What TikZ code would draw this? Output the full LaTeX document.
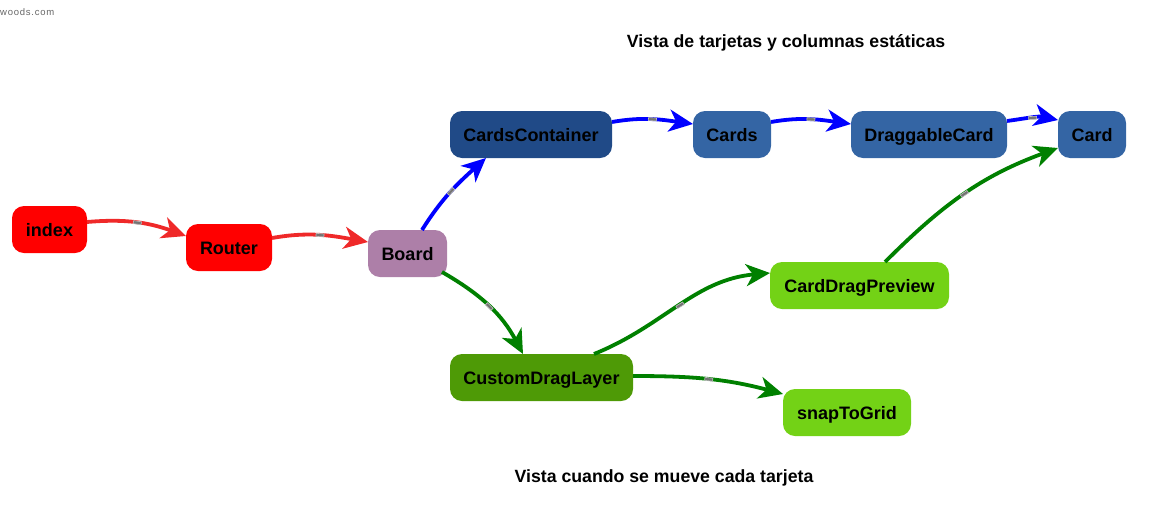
\documentclass[tikz,border=0pt]{standalone}
\usepackage{fontspec}
\setmainfont{Liberation Sans}
\usetikzlibrary{arrows.meta,calc}
\definecolor{nred}{HTML}{FF0000}
\definecolor{nmauve}{HTML}{AD7FA8}
\definecolor{ndblue}{HTML}{204A87}
\definecolor{nblue}{HTML}{3465A4}
\definecolor{ndgreen}{HTML}{4E9A06}
\definecolor{nlgreen}{HTML}{73D216}
\definecolor{ered}{HTML}{EF2929}
\definecolor{eblue}{HTML}{0000FF}
\definecolor{egreen}{HTML}{008000}
\tikzset{
  box/.style={rounded corners=12pt, inner sep=0pt, minimum height=47pt,
    text height=15pt, text depth=2pt,
    font=\fontsize{18}{21}\selectfont\bfseries, text=black},
  edge/.style={line width=3.8pt, -{Stealth[length=24pt,width=22pt,inset=7pt]}},
  midlbl/.style={fill=black!55, draw=black!25, line width=0.6pt, inner sep=0pt, minimum width=8pt, minimum height=3pt, sloped},
  title/.style={font=\fontsize{17.7}{20}\selectfont\bfseries, text=black},
}
\begin{document}
\begin{tikzpicture}[x=1pt,y=1pt]
\useasboundingbox (0,0) rectangle (1154,-520);
\node[anchor=west, inner sep=0pt, text=black!60, font=\fontsize{9.5}{11}\selectfont\addfontfeature{LetterSpace=8}] (wm) at (0,-12) {woods.com};
\node[title] (t1) at (786,-43) {Vista de tarjetas y columnas estáticas};
\node[title] (t2) at (664,-478) {Vista cuando se mueve cada tarjeta};

\node[box, fill=nred, minimum width=75pt] (index) at (49.5,-229.5) {index};
\node[box, fill=nred, minimum width=86pt] (Router) at (229,-247.5) {Router};
\node[box, fill=nmauve, minimum width=79pt] (Board) at (407.5,-253.5) {Board};
\node[box, fill=ndblue, minimum width=162pt] (CC) at (531,-134.5) {CardsContainer};
\node[box, fill=nblue, minimum width=78pt] (Cards) at (732,-134.5) {Cards};
\node[box, fill=nblue, minimum width=156pt] (DC) at (929,-134.5) {DraggableCard};
\node[box, fill=nblue, minimum width=68pt] (Card) at (1092,-134.5) {Card};
\node[box, fill=nlgreen, minimum width=179pt] (CDP) at (859.5,-285.5) {CardDragPreview};
\node[box, fill=ndgreen, minimum width=183pt] (CDL) at (541.5,-377.5) {CustomDragLayer};
\node[box, fill=nlgreen, minimum width=128pt] (snap) at (847,-412.5) {snapToGrid};

\draw[edge, ered] ($(index.center)+(37.5,7.5)$) to[out=5,in=160] node[midlbl]{} ($(Router.center)+(-43,11.5)$);
\draw[edge, ered] ($(Router.center)+(43,9.5)$) to[out=10,in=170] node[midlbl]{} ($(Board.center)+(-39.5,11.5)$);
\draw[edge, eblue] ($(Board.center)+(14.5,23.5)$) to[out=58,in=222] node[midlbl]{} ($(CC.center)+(-45,-23.5)$);
\draw[edge, eblue] ($(CC.center)+(81,12.5)$) to[out=10,in=172] node[midlbl]{} ($(Cards.center)+(-39,10.5)$);
\draw[edge, eblue] ($(Cards.center)+(39,12.5)$) to[out=10,in=172] node[midlbl]{} ($(DC.center)+(-78,10.5)$);
\draw[edge, eblue] ($(DC.center)+(78,13.5)$) to[out=8,in=168] node[midlbl]{} ($(Card.center)+(-34,14.5)$);
\draw[edge, egreen] ($(Board.center)+(34.5,-18.5)$) to[out=-30,in=118] node[midlbl]{} ($(CDL.center)+(-18.5,23.5)$);
\draw[edge, egreen] ($(CDL.center)+(52.5,23.5)$) to[out=22,in=185] node[midlbl]{} ($(CDP.center)+(-89.5,12.5)$);
\draw[edge, egreen] ($(CDL.center)+(91.5,1.5)$) to[out=0,in=165] node[midlbl]{} ($(snap.center)+(-64,18.5)$);
\draw[edge, egreen] ($(CDP.center)+(25.5,23.5)$) to[out=45,in=200] node[midlbl]{} ($(Card.center)+(-34,-13.5)$);
\end{tikzpicture}
\end{document}
